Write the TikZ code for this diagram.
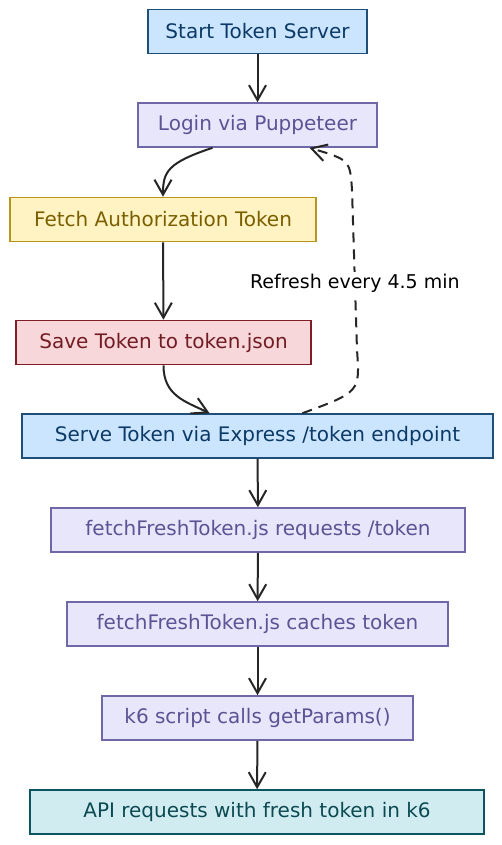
\documentclass[tikz,border=0pt]{standalone}
\usepackage{fontspec}
\setmainfont{DejaVu Sans}
\usetikzlibrary{arrows.meta}
\usepackage{xcolor}
\definecolor{bluefill}{HTML}{CCE5FF}
\definecolor{blueline}{HTML}{1F4E79}
\definecolor{bluetext}{HTML}{0B3A66}
\definecolor{lavfill}{HTML}{E8E6FA}
\definecolor{lavline}{HTML}{6F67A8}
\definecolor{lavtext}{HTML}{5B5494}
\definecolor{yelfill}{HTML}{FFF3C4}
\definecolor{yelline}{HTML}{B8961E}
\definecolor{yeltext}{HTML}{7A5F00}
\definecolor{redfill}{HTML}{F8D7DA}
\definecolor{redline}{HTML}{7F1D28}
\definecolor{redtext}{HTML}{721C24}
\definecolor{tealfill}{HTML}{D1ECF1}
\definecolor{tealline}{HTML}{0C5460}
\definecolor{tealtext}{HTML}{0C4A52}
\begin{document}
\begin{tikzpicture}[x=1pt,y=-1pt,
  box/.style={draw,line width=1.6pt,minimum height=44pt,inner sep=0pt,font=\fontsize{20}{22}\selectfont},
  bluebox/.style={box,fill=bluefill,draw=blueline,text=bluetext},
  lavbox/.style={box,fill=lavfill,draw=lavline,text=lavtext},
  yelbox/.style={box,fill=yelfill,draw=yelline,text=yeltext},
  redbox/.style={box,fill=redfill,draw=redline,text=redtext},
  tealbox/.style={box,fill=tealfill,draw=tealline,text=tealtext},
  arr/.style={-{Straight Barb[length=15pt,width=17pt,line width=2pt]},line width=2pt,black!85}]
\useasboundingbox[fill=white] (0,0) rectangle (502,845);
\node[bluebox,minimum width=219pt] (start) at (257.5,31.5) {Start Token Server};
\node[lavbox,minimum width=239pt] (login) at (257.5,125) {Login via Puppeteer};
\node[yelbox,minimum width=306pt] (fetch) at (163,219.5) {Fetch Authorization Token};
\node[redbox,minimum width=295pt] (save) at (163.5,342.5) {Save Token to token.json};
\node[bluebox,minimum width=471pt] (serve) at (257.5,436) {Serve Token via Express /token endpoint};
\node[lavbox,minimum width=414pt] (req) at (258,530) {fetchFreshToken.js requests /token};
\node[lavbox,minimum width=381pt] (cache) at (257.5,624) {fetchFreshToken.js caches token};
\node[lavbox,minimum width=311pt] (params) at (257.5,718) {k6 script calls getParams()};
\node[tealbox,minimum width=454pt] (api) at (257,812) {API requests with fresh token in k6};
\draw[arr] (start) -- (login);
\draw[arr] ([xshift=-45pt]login.south) .. controls +(-45,15) and +(0,-25) .. (fetch.north);
\draw[arr] (fetch) -- (save);
\draw[arr] (save.south) .. controls +(0,30) and +(-25,-12) .. ([xshift=-48pt]serve.north);
\draw[arr,dash pattern=on 10pt off 7pt] ([xshift=45pt]serve.north) .. controls (360,392) .. (357,350)
  -- node[pos=0.42,fill=white,inner sep=2pt,font=\fontsize{19}{21}\selectfont,text=black] (refresh) {Refresh every 4.5 min} (352,190)
  .. controls (350,160) .. ([xshift=52pt]login.south);
\draw[arr] (serve) -- (req);
\draw[arr] (req) -- (cache);
\draw[arr] (cache) -- (params);
\draw[arr] (params) -- (api);
\end{tikzpicture}
\end{document}
